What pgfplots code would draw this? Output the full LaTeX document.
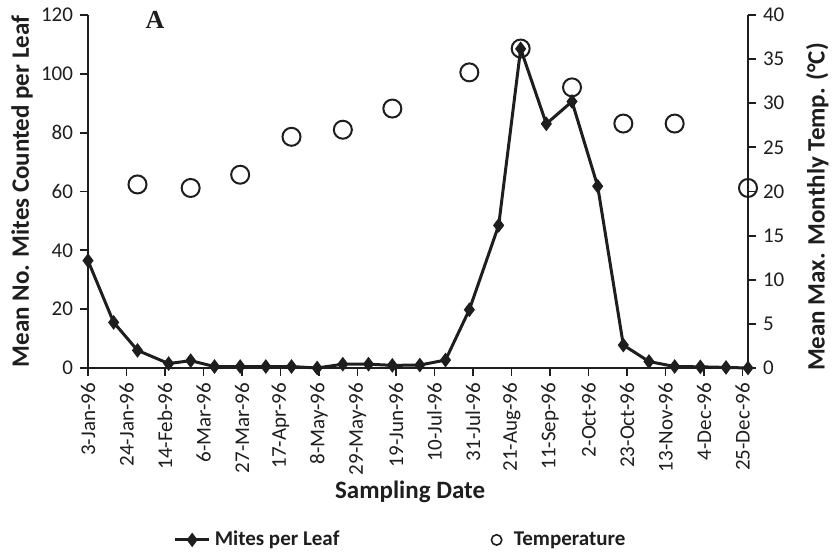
\documentclass[border=0pt]{standalone}
\usepackage{pgfplots}
\pgfplotsset{compat=1.18}
\usepackage{fontspec}
\setmainfont{Carlito}
\newfontfamily\serifA{Liberation Serif}
\definecolor{ink}{HTML}{1E1E1E}

\pgfplotstableread{
day mites
0   36.5
14  15.5
27  6
44  1.5
56  2.5
69  0.5
83  0.5
97  0.5
111 0.5
125 0
139 1.3
153 1.3
166 0.9
181 1
195 2.7
208 19.8
224 48.5
236 108.5
250 83
264 90.6
278 61.8
292 7.8
306 2.2
320 0.5
334 0.4
348 0.2
360 0
}\mites

\pgfplotstableread{
day temp
27  20.8
56  20.4
83  21.9
111 26.2
139 27.0
166 29.4
208 33.5
236 36.2
264 31.8
292 27.7
320 27.7
360 20.4
}\temps

\begin{document}
\begin{tikzpicture}
\pgfplotsset{
  every axis/.append style={
    scale only axis, width=330pt, height=176.5pt,
    xmin=0, xmax=360,
    axis line style={ink, line width=1pt},
    major tick style={ink, line width=0.9pt},
    tick align=outside, major tick length=4pt,
    ticklabel style={font=\fontsize{10.5}{12}\selectfont, text=ink},
    /pgf/number format/assume math mode=true,
    label style={font=\fontsize{12.5}{14}\bfseries, text=ink},
  },
  mitesstyle/.style={ink, line width=1.5pt, mark=diamond*, mark size=3.2pt, mark options={fill=ink, solid, line width=0.6pt}},
}
\begin{axis}[
  axis y line*=left, axis x line*=bottom,
  ymin=0, ymax=120, ytick={0,20,...,120},
  xtick={0,21,...,357},
  xticklabels={3-Jan-96,24-Jan-96,14-Feb-96,6-Mar-96,27-Mar-96,17-Apr-96,8-May-96,29-May-96,19-Jun-96,10-Jul-96,31-Jul-96,21-Aug-96,11-Sep-96,2-Oct-96,23-Oct-96,13-Nov-96,4-Dec-96,25-Dec-96},
  xticklabel style={rotate=90, anchor=east},
  ylabel={Mean No. Mites Counted per Leaf},
  ylabel style={at={(axis description cs:-0.1,0.5)}, anchor=center},
  xlabel={Sampling Date},
  xlabel style={at={(axis description cs:0.488,-0.351)}, anchor=center},
  clip=false,
]
\addplot[mitesstyle] table[x=day, y=mites] {\mites};
\node[font=\serifA\fontsize{13}{14}\bfseries, text=ink] at (rel axis cs:0.1015,0.986) {A};
\end{axis}
\begin{axis}[
  axis y line*=right, axis x line=none,
  ymin=0, ymax=40, ytick={0,5,...,40},
  ylabel={Mean Max. Monthly Temp. (°C)},
  ylabel style={at={(axis description cs:1.105,0.456)}, anchor=center},
  clip=false,
  legend style={at={(axis description cs:0.475,-0.487)}, anchor=center, draw=none, fill=none,
    font=\fontsize{10.5}{12}\bfseries, text=ink, legend columns=2,
    /tikz/every even column/.append style={column sep=74pt}},
]
\addlegendimage{ink, line width=1.5pt, mark=diamond*, mark size=2.4pt, mark options={fill=ink, solid}}
\addlegendentry{Mites per Leaf}
\addlegendimage{only marks, mark=o, mark size=2.6pt, mark options={ink, line width=0.8pt}}
\addlegendentry{\hspace{4pt}Temperature}
\addplot[only marks, mark=o, mark size=4.5pt, mark options={ink, line width=1pt}, forget plot] table[x=day, y=temp] {\temps};
\end{axis}
\pgfresetboundingbox
\path (-44pt,-94.5pt) rectangle (372.5pt,184pt);
\end{tikzpicture}
\end{document}
